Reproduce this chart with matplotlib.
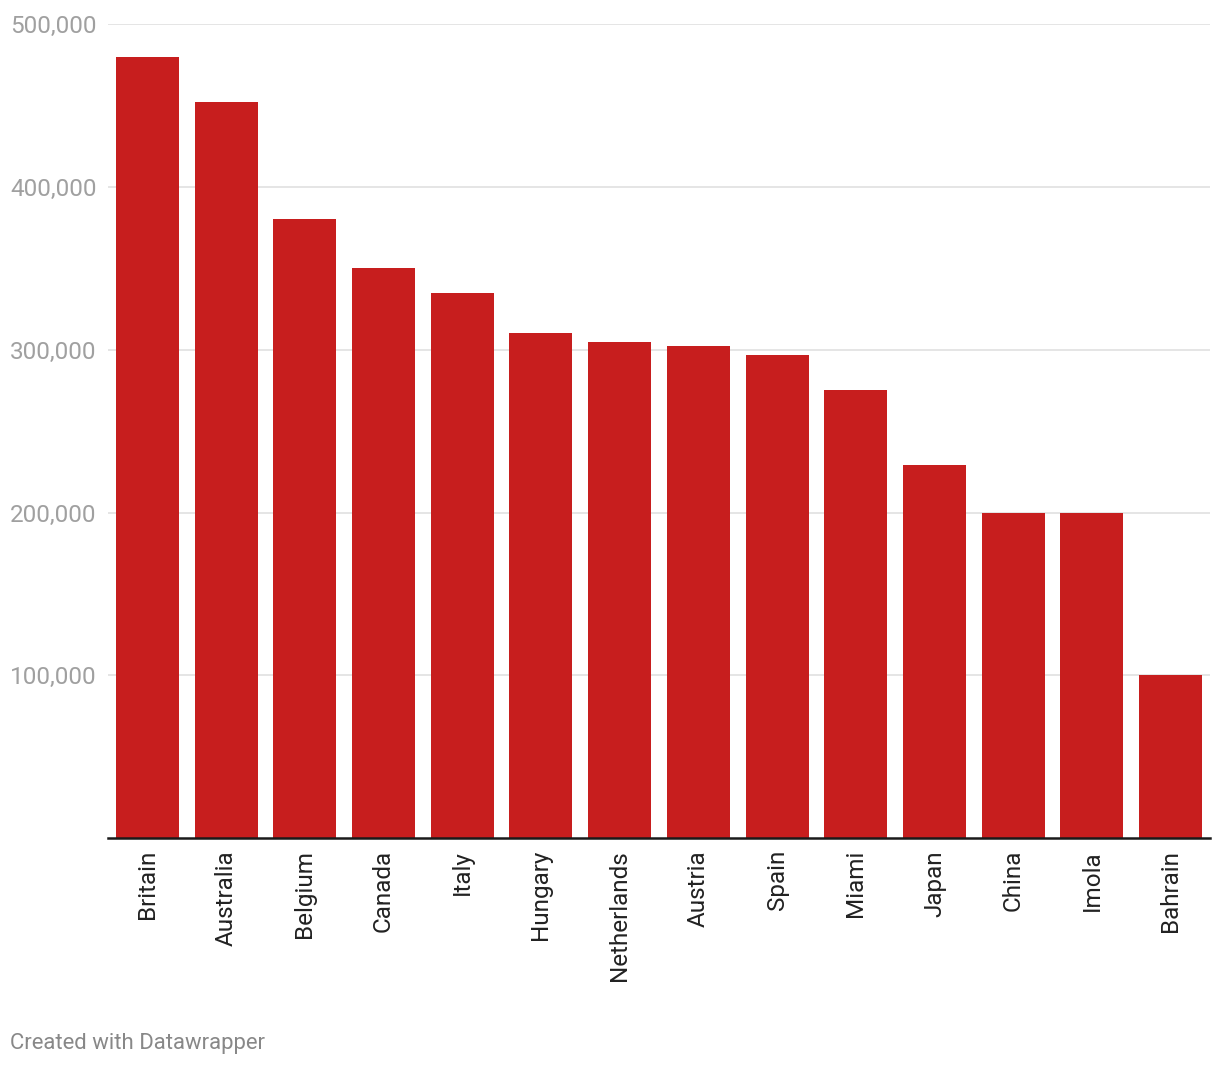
"""Bar chart: values by race venue (Datawrapper style)."""

import matplotlib

matplotlib.use("Agg")
import matplotlib.pyplot as plt
from matplotlib.ticker import FuncFormatter

plt.rcParams["font.family"] = ["Roboto", "DejaVu Sans"]

VENUES = [
    "Britain",
    "Australia",
    "Belgium",
    "Canada",
    "Italy",
    "Hungary",
    "Netherlands",
    "Austria",
    "Spain",
    "Miami",
    "Japan",
    "China",
    "Imola",
    "Bahrain",
]
VALUES = [
    480000, 452000, 380000, 350000, 335000, 310000, 305000,
    302000, 297000, 275000, 229000, 200000, 200000, 100000,
]
Y_TICKS = [100000, 200000, 300000, 400000, 500000]

BAR_COLOR = "#c71e1e"

fig = plt.figure(figsize=(12.2, 10.66), dpi=100)
ax = fig.add_axes([108 / 1220, 1 - 838.3 / 1066, 1102 / 1220, 814.3 / 1066])

x = range(len(VENUES))
ax.bar(x, VALUES, width=0.8, color=BAR_COLOR, zorder=2)

ax.set_xlim(-0.5, len(VENUES) - 0.5)
ax.set_ylim(0, 500000)

ax.set_yticks(Y_TICKS)
ax.yaxis.set_major_formatter(FuncFormatter(lambda v, _: f"{int(v):,}"))
ax.grid(axis="y", color="#e3e3e3", linewidth=1.3, zorder=0)
ax.tick_params(axis="y", length=0, labelsize=17.5, labelcolor="#a0a0a0", pad=0)
for lbl in ax.get_yticklabels():
    lbl.set_horizontalalignment("left")
    lbl.set_x(-98 / 1102)

ax.set_xticks(list(x))
ax.set_xticklabels(VENUES, rotation=90, va="top", ha="center")
ax.tick_params(axis="x", length=0, labelsize=17.5, labelcolor="#222222", pad=8.5)

for side in ("top", "right", "left"):
    ax.spines[side].set_visible(False)
ax.spines["bottom"].set_color("#1a1a1a")
ax.spines["bottom"].set_linewidth(1.8)
ax.spines["bottom"].set_zorder(3)

fig.text(10 / 1220, 1 - 1043 / 1066, "Created with Datawrapper",
         fontsize=15.9, color="#888888", va="center", ha="left")

fig.savefig("out.png", dpi=100)
